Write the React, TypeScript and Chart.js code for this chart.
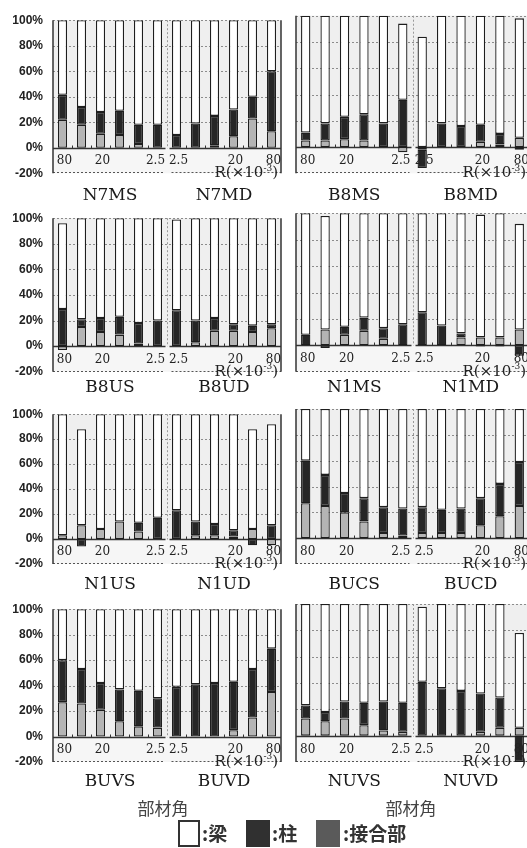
import React, { useEffect, useRef } from "react";
import { Chart, registerables } from "chart.js";

Chart.register(...registerables);

// ---------------- data ----------------
const rotationLabels = ["80", "40", "20", "10", "5", "2.5", "2.5", "5", "10", "20", "40", "80"];
const shownRotationLabels = ["80", "20", "2.5"];
const yTickValues = [-20, 0, 20, 40, 60, 80, 100];
const unitLabelMain = "R(×10";
const unitLabelExp = "-3";
const axisTitle = "部材角";
const seriesLabels = ["接合部", "柱", "梁"];

const namesN7M = ["N7MS", "N7MD"];
const jointN7M = [22, 18, 11, 10, 3, 0, 0, 0, 2, 9, 23, 13];
const columnN7M = [19.5, 14, 17, 19, 15, 18, 10, 19, 23, 21, 17, 47];
const beamN7M = [58.5, 68, 72, 71, 82, 82, 90, 81, 75, 70, 60, 40];

const namesB8M = ["B8MS", "B8MD"];
const jointB8M = [5, 5, 6, 5, 0, -4, -2, 0, 0, 4, 2, 7];
const columnB8M = [6, 13, 17, 20, 18, 36, -14, 18, 16, 13, 8, -2];
const beamB8M = [89, 82, 77, 75, 82, 58, 84, 82, 84, 83, 90, 91];

const namesB8U = ["B8US", "B8UD"];
const jointB8U = [-3, 15, 11, 9, 2, 0, 0, 3, 12, 12, 11, 14];
const columnB8U = [29, 6, 11, 14, 16, 20, 28, 17, 10, 5, 5, 3];
const beamB8U = [67, 79, 78, 77, 82, 80, 71, 80, 78, 83, 84, 83];

const namesN1M = ["N1MS", "N1MD"];
const jointN1M = [0, 12, 8, 11, 5, 0, 0, 0, 6, 6, 6, 12];
const columnN1M = [8, -2, 6, 10, 8, 16, 25, 15, 3, -1, -1, -8];
const beamN1M = [92, 86, 86, 79, 87, 84, 75, 85, 91, 93, 94, 80];

const namesN1U = ["N1US", "N1UD"];
const jointN1U = [3, 11, 8, 14, 6, 0, 0, 3, 3, 2, 8, -5];
const columnN1U = [0, -6, 0, 0, 7, 17, 23, 11, 9, 5, -5, 11];
const beamN1U = [97, 77, 92, 86, 87, 83, 77, 86, 88, 93, 80, 81];

const namesBUC = ["BUCS", "BUCD"];
const jointBUC = [27, 25, 20, 13, 4, 2, 4, 4, 4, 10, 17, 25];
const columnBUC = [33, 24, 15, 18, 20, 21, 20, 18, 19, 21, 25, 34];
const beamBUC = [40, 51, 65, 69, 76, 77, 76, 78, 77, 69, 58, 41];

const namesBUV = ["BUVS", "BUVD"];
const jointBUV = [27, 26, 21, 12, 8, 7, 0, 0, 0, 5, 15, 35];
const columnBUV = [33, 27, 21, 25, 28, 23, 39, 41, 42, 38, 38, 34];
const beamBUV = [40, 47, 58, 63, 64, 70, 61, 59, 58, 57, 47, 31];

const namesNUV = ["NUVS", "NUVD"];
const jointNUV = [13, 11, 13, 8, 4, 3, 0, 0, 0, 3, 6, 6];
const columnNUV = [10, 7, 13, 17, 22, 22, 41, 36, 34, 29, 23, -20];
const beamNUV = [77, 82, 74, 75, 74, 75, 57, 64, 66, 68, 71, 72];

const panels = [
  { names: namesN7M, joint: jointN7M, column: columnN7M, beam: beamN7M },
  { names: namesB8M, joint: jointB8M, column: columnB8M, beam: beamB8M },
  { names: namesB8U, joint: jointB8U, column: columnB8U, beam: beamB8U },
  { names: namesN1M, joint: jointN1M, column: columnN1M, beam: beamN1M },
  { names: namesN1U, joint: jointN1U, column: columnN1U, beam: beamN1U },
  { names: namesBUC, joint: jointBUC, column: columnBUC, beam: beamBUC },
  { names: namesBUV, joint: jointBUV, column: columnBUV, beam: beamBUV },
  { names: namesNUV, joint: jointNUV, column: columnNUV, beam: beamNUV },
];

// ---------------- layout ----------------
const ROWS = [
  { top: 15.7, bottom: 173.3, title: 195.5 },
  { top: 213.3, bottom: 371.7, title: 388 },
  { top: 409, bottom: 564, title: 584.5 },
  { top: 604, bottom: 762, title: 781.5 },
];
const COLS = [
  { plotLeft: 53, plotRight: 281, canvasLeft: 0, canvasWidth: 290, showY: true },
  { plotLeft: 296, plotRight: 529, canvasLeft: 290, canvasWidth: 245, showY: false },
];

const COLORS = {
  joint: "#b4b4b4",
  column: "#262626",
  beam: "#ffffff",
  border: "#1e1e1e",
};

function line(ctx: CanvasRenderingContext2D, x1: number, y1: number, x2: number, y2: number) {
  ctx.beginPath();
  ctx.moveTo(x1, y1);
  ctx.lineTo(x2, y2);
  ctx.stroke();
}

function makeDecor(names: string[], titleY: number) {
  return {
    id: "panelDecor",
    beforeDatasetsDraw(chart: any) {
      const { ctx, chartArea, scales } = chart;
      const { left, right, top, bottom } = chartArea;
      const x = scales.x;
      const y = scales.y;
      const y0 = Math.round(y.getPixelForValue(0)) + 0.5;
      const xDiv = Math.round(x.getPixelForValue(5.5)) + 0.5;
      ctx.save();
      ctx.fillStyle = "#efefef";
      ctx.fillRect(left, top, right - left, y0 - top);
      ctx.fillStyle = "#f6f6f6";
      ctx.fillRect(left, y0, right - left, bottom - y0);

      ctx.lineWidth = 1;
      ctx.setLineDash([2, 2]);
      ctx.strokeStyle = "#8c8c8c";
      for (const v of yTickValues) {
        if (v <= 0) continue;
        const py = Math.round(y.getPixelForValue(v)) + 0.5;
        line(ctx, left, py, right, py);
      }
      const pb = Math.round(y.getPixelForValue(-20)) - 0.5;
      ctx.strokeStyle = "#555";
      line(ctx, left, pb, xDiv - 4, pb);
      line(ctx, xDiv + 4, pb, right, pb);
      ctx.strokeStyle = "#999";
      line(ctx, xDiv, top, xDiv, y0);
      ctx.setLineDash([]);

      ctx.strokeStyle = "#333";
      ctx.lineWidth = 1.3;
      line(ctx, left, y0, xDiv - 2, y0);
      line(ctx, xDiv + 2, y0, right, y0);
      ctx.lineWidth = 1;
      for (let i = 0; i < rotationLabels.length - 1; i++) {
        if (i === 5) continue;
        const px = Math.round(x.getPixelForValue(i + 0.5)) + 0.5;
        line(ctx, px, y0, px, y0 - 3);
      }
      ctx.lineWidth = 1.5;
      ctx.strokeStyle = "#333";
      line(ctx, left, top, left, bottom);
      line(ctx, right, top, right, bottom);
      ctx.restore();
    },
    afterDatasetsDraw(chart: any) {
      const { ctx, chartArea, scales } = chart;
      const { left, right, bottom } = chartArea;
      const x = scales.x;
      const y = scales.y;
      const xDiv = x.getPixelForValue(5.5);
      ctx.save();
      ctx.fillStyle = "#222";
      ctx.textAlign = "center";
      ctx.textBaseline = "middle";
      ctx.font = '12px "DejaVu Serif"';
      const ly = y.getPixelForValue(-10.5);
      rotationLabels.forEach((lab, i) => {
        if (!shownRotationLabels.includes(lab)) return;
        const shift = i === 5 ? -2 : 2;
        ctx.fillText(lab, x.getPixelForValue(i) + shift, ly);
      });

      // unit label R(×10^-3)
      const uy = bottom;
      ctx.textAlign = "left";
      ctx.font = '15px "DejaVu Serif"';
      const wParen = ctx.measureText(")").width;
      const wMain = ctx.measureText(unitLabelMain).width;
      ctx.font = '9px "DejaVu Serif"';
      const wExp = ctx.measureText(unitLabelExp).width;
      const xEnd = right - 3;
      const xStart = xEnd - wParen - wExp - wMain;
      ctx.font = '15px "DejaVu Serif"';
      ctx.fillText(unitLabelMain, xStart, uy);
      ctx.fillText(")", xStart + wMain + wExp, uy);
      ctx.font = '9px "DejaVu Serif"';
      ctx.fillText(unitLabelExp, xStart + wMain, uy - 5);

      // titles
      ctx.textAlign = "center";
      ctx.font = '17px "DejaVu Serif"';
      ctx.fillStyle = "#1a1a1a";
      ctx.fillText(names[0], (left + xDiv) / 2, titleY);
      ctx.fillText(names[1], (xDiv + right) / 2, titleY);
      ctx.restore();
    },
  };
}

function Panel({ panel, row, col }: any) {
  const ref = useRef<HTMLCanvasElement>(null);
  const canvasTop = Math.floor(row.top) - 12;
  const canvasHeight = Math.ceil(row.title + 14 - canvasTop);

  useEffect(() => {
    const canvas = ref.current!;
    const padTop = row.top - canvasTop;
    const padBottom = canvasHeight - (row.bottom - canvasTop);
    const padRight = col.canvasLeft + col.canvasWidth - col.plotRight;
    const titleY = row.title - canvasTop;
    const bw = (c: any) => (c.raw === 0 ? 0 : 1.3);
    const common = {
      borderColor: COLORS.border,
      borderWidth: bw,
      borderSkipped: false,
      barPercentage: 0.48,
      categoryPercentage: 1,
    };
    const chart = new Chart(canvas, {
      type: "bar",
      data: {
        labels: rotationLabels,
        datasets: [
          { label: seriesLabels[0], data: panel.joint, backgroundColor: COLORS.joint, ...common },
          { label: seriesLabels[1], data: panel.column, backgroundColor: COLORS.column, ...common },
          { label: seriesLabels[2], data: panel.beam, backgroundColor: COLORS.beam, ...common },
        ],
      } as any,
      options: {
        animation: false,
        responsive: false,
        maintainAspectRatio: false,
        layout: { padding: { left: 0, right: padRight, top: padTop, bottom: padBottom } },
        plugins: { legend: { display: false }, tooltip: { enabled: false } },
        scales: {
          x: { stacked: true, display: false },
          y: {
            stacked: true,
            min: -20,
            max: 100,
            afterBuildTicks: (s: any) => {
              s.ticks = yTickValues.map((v) => ({ value: v }));
            },
            afterFit: (s: any) => {
              s.width = col.plotLeft - col.canvasLeft;
            },
            ticks: {
              display: col.showY,
              padding: 10,
              color: "#222",
              font: { family: '"Liberation Sans", Arial, sans-serif', weight: "bold", size: 12 },
              callback: (v: any) => v + "%",
            },
            grid: { display: false, drawTicks: false },
            border: { display: false },
          },
        },
      } as any,
      plugins: [makeDecor(panel.names, titleY)],
    });
    return () => chart.destroy();
  }, []);

  return (
    <canvas
      ref={ref}
      width={col.canvasWidth}
      height={canvasHeight}
      style={{
        position: "absolute",
        left: col.canvasLeft,
        top: canvasTop,
        width: col.canvasWidth,
        height: canvasHeight,
      }}
    />
  );
}

const cjk = '"Noto Sans CJK JP", "Noto Sans CJK SC", sans-serif';

export default function App() {
  const legendItems = [
    { label: seriesLabels[2], box: { left: 178, width: 22, bg: "#fff", border: "2px solid #333" }, textLeft: 202 },
    { label: seriesLabels[1], box: { left: 246, width: 24, bg: "#303030", border: "none" }, textLeft: 272 },
    { label: seriesLabels[0], box: { left: 316, width: 24, bg: "#5a5a5a", border: "none" }, textLeft: 343 },
  ];
  return (
    <div
      style={{
        position: "absolute",
        left: 0,
        top: 0,
        width: 527,
        height: 848,
        overflow: "hidden",
        background: "#fff",
      }}
    >
      {panels.map((p, i) => (
        <Panel key={i} panel={p} row={ROWS[Math.floor(i / 2)]} col={COLS[i % 2]} />
      ))}
      {[163, 411].map((cx, i) => (
        <div
          key={"ax" + i}
          style={{
            position: "absolute",
            left: cx - 40,
            width: 80,
            top: 808 - 12,
            height: 24,
            lineHeight: "24px",
            textAlign: "center",
            fontFamily: cjk,
            fontSize: 17,
            color: "#444",
          }}
        >
          {axisTitle}
        </div>
      ))}
      {legendItems.map((it, i) => (
        <React.Fragment key={"lg" + i}>
          <div
            style={{
              position: "absolute",
              left: it.box.left,
              top: 820,
              width: it.box.width,
              height: 27,
              background: it.box.bg,
              border: it.box.border,
              boxSizing: "border-box",
            }}
          />
          <div
            style={{
              position: "absolute",
              left: it.textLeft,
              top: 833 - 13,
              height: 26,
              lineHeight: "26px",
              fontFamily: cjk,
              fontWeight: "bold",
              fontSize: 19,
              color: "#333",
              whiteSpace: "nowrap",
            }}
          >
            {":" + it.label}
          </div>
        </React.Fragment>
      ))}
    </div>
  );
}
